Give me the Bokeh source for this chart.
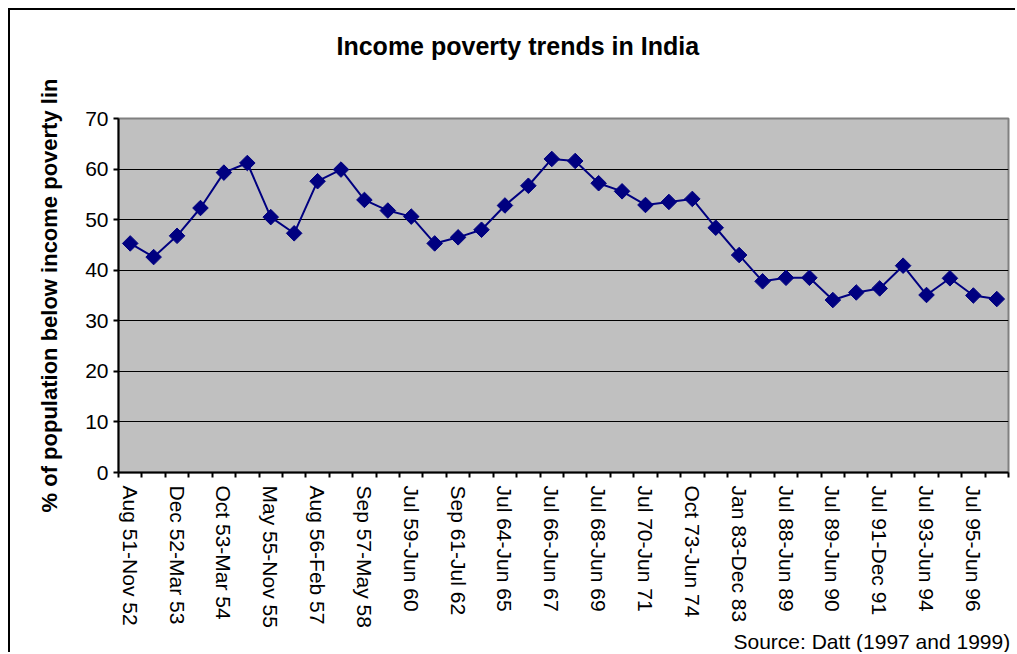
import math
import numpy as np
from bokeh.plotting import figure
from bokeh.models import FixedTicker, Range1d, Title
from bokeh.embed import file_html
from bokeh.resources import INLINE

# ---- data ----
categories = [
    "Aug 51-Nov 52", "Apr 52-Sep 52", "Dec 52-Mar 53", "May 53-Sep 53",
    "Oct 53-Mar 54", "Jul 54-Mar 55", "May 55-Nov 55", "Dec 55-May 56",
    "Aug 56-Feb 57", "Mar 57-Aug 57", "Sep 57-May 58", "Jul 58-Jun 59",
    "Jul 59-Jun 60", "Jul 60-Aug 61", "Sep 61-Jul 62", "Feb 63-Jan 64",
    "Jul 64-Jun 65", "Jul 65-Jun 66", "Jul 66-Jun 67", "Jul 67-Jun 68",
    "Jul 68-Jun 69", "Jul 69-Jun 70", "Jul 70-Jun 71", "Oct 72-Sep 73",
    "Oct 73-Jun 74", "Jul 77-Jun 78", "Jan 83-Dec 83", "Jul 86-Jun 87",
    "Jul 88-Jun 89", "Jan 89-Jun 89", "Jul 89-Jun 90", "Jul 90-Jun 91",
    "Jul 91-Dec 91", "Jan 92-Dec 92", "Jul 93-Jun 94", "Jul 94-Jun 95",
    "Jul 95-Jun 96", "Jan 97-Dec 97",
]
poverty = [
    45.3, 42.6, 46.8, 52.3, 59.3, 61.2, 50.5, 47.3, 57.6, 59.9,
    53.9, 51.8, 50.6, 45.3, 46.5, 48.0, 52.8, 56.7, 62.0, 61.6,
    57.2, 55.6, 52.9, 53.5, 54.1, 48.4, 43.0, 37.8, 38.5, 38.5,
    34.1, 35.6, 36.4, 40.9, 35.1, 38.4, 35.0, 34.3,
]
y_ticks = [0, 10, 20, 30, 40, 50, 60, 70]
title_text = "Income poverty trends in India"
y_label = "% of population below income poverty lin"
source_text = "Source: Datt (1997 and 1999)"

FONT = "Liberation Sans"
NAVY = "#000080"

n = len(categories)
xs = np.arange(n) + 0.5
shown = list(range(0, n, 2))

p = figure(
    width=1007, height=644,
    output_backend="svg", toolbar_location=None,
    x_range=Range1d(0, n), y_range=Range1d(0, 70),
    min_border_left=108, min_border_top=108,
    min_border_right=9, min_border_bottom=182,
    background_fill_color="#C0C0C0",
    border_fill_color="white",
)
p.styles = {
    "margin-left": "8px", "margin-top": "8px",
    "border-left": "2px solid black", "border-top": "2px solid black",
}
p.outline_line_color = "#808080"
p.outline_line_width = 2

# title (with a blank spacer between it and the plot area)
p.add_layout(Title(text=" ", standoff=46, text_font=FONT,
                   text_font_size="10px"), "above")
p.title.text = title_text
p.title.align = "left"
p.title.offset = 218
p.title.standoff = 0
p.title.text_font = FONT
p.title.text_font_size = "25px"
p.title.text_font_style = "bold"
p.title.text_color = "black"

# grid
p.xgrid.visible = False
p.ygrid.ticker = FixedTicker(ticks=y_ticks[1:-1])
p.ygrid.grid_line_color = "black"
p.ygrid.grid_line_width = 1

# y axis
p.yaxis.ticker = FixedTicker(ticks=y_ticks)
p.yaxis.axis_line_color = "black"
p.yaxis.axis_line_width = 2
p.yaxis.major_tick_out = 5
p.yaxis.major_tick_in = 0
p.yaxis.major_tick_line_width = 2
p.yaxis.minor_tick_line_color = None
p.yaxis.major_label_text_font = FONT
p.yaxis.major_label_text_font_size = "21px"
p.yaxis.major_label_text_color = "black"
p.yaxis.major_label_standoff = 5
p.yaxis.axis_label = y_label
p.yaxis.axis_label_text_font = FONT
p.yaxis.axis_label_text_font_size = "22px"
p.yaxis.axis_label_text_font_style = "bold"
p.yaxis.axis_label_text_color = "black"
p.yaxis.axis_label_standoff = 20

# x axis
p.xaxis.ticker = FixedTicker(ticks=[float(xs[i]) for i in shown],
                             minor_ticks=list(range(n + 1)))
p.xaxis.major_label_overrides = {float(xs[i]): categories[i] for i in shown}
p.xaxis.axis_line_color = "black"
p.xaxis.axis_line_width = 2
p.xaxis.major_tick_out = 0
p.xaxis.major_tick_in = 0
p.xaxis.major_tick_line_color = None
p.xaxis.minor_tick_out = 5
p.xaxis.minor_tick_in = 0
p.xaxis.minor_tick_line_width = 2
p.xaxis.minor_tick_line_color = "black"
p.xaxis.major_label_orientation = -math.pi / 2
p.xaxis.major_label_text_font = FONT
p.xaxis.major_label_text_font_size = "21px"
p.xaxis.major_label_text_color = "black"
p.xaxis.major_label_standoff = 8

# series
p.line(xs, poverty, line_color=NAVY, line_width=2)
p.scatter(xs, poverty, marker="square", angle=math.pi / 4, size=11,
          fill_color=NAVY, line_color=NAVY)

# source note
p.add_layout(Title(text=source_text, align="left", offset=615, standoff=-5,
                   text_font=FONT, text_font_size="21px",
                   text_font_style="normal", text_color="black"), "below")

open("out.html", "w").write(file_html(p, INLINE))
